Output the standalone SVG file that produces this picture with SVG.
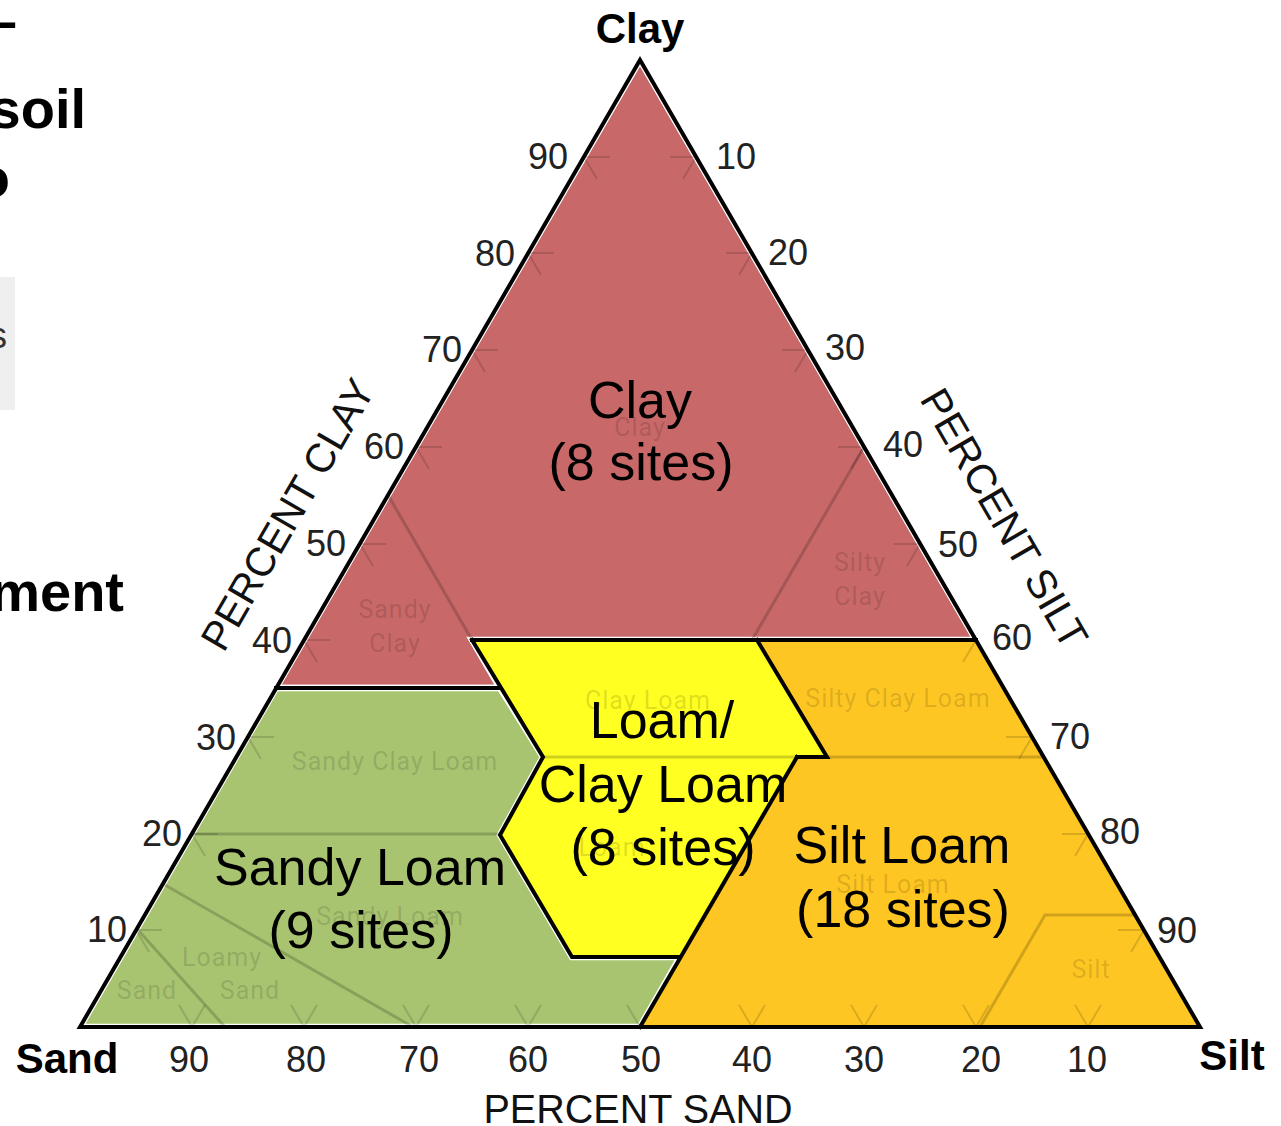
<svg xmlns="http://www.w3.org/2000/svg" width="1281" height="1126" viewBox="0 0 1281 1126">
<style>
.num{font-family:"Liberation Sans",Arial,sans-serif;font-size:36px;fill:#222;text-anchor:middle}
.big{font-family:"Liberation Sans",Arial,sans-serif;font-size:52px;fill:#000;text-anchor:middle}
.corner{font-family:"Liberation Sans",Arial,sans-serif;font-size:42px;font-weight:bold;fill:#000;text-anchor:middle}
.axis{font-family:"Liberation Sans",Arial,sans-serif;font-size:41px;fill:#111;text-anchor:middle}
.faint{font-family:Roboto,"DejaVu Sans",sans-serif;font-size:25px;fill:#000;fill-opacity:0.14;text-anchor:middle;letter-spacing:1px}
.inner{fill:none;stroke:#000;stroke-opacity:0.18;stroke-width:3}
.tick{fill:none;stroke:#000;stroke-opacity:0.14;stroke-width:2}
.bd{fill:none;stroke:#000;stroke-width:4;stroke-linejoin:miter;stroke-linecap:square}
.slide{font-family:"Liberation Sans",Arial,sans-serif;font-weight:bold;font-size:56px;fill:#000;text-anchor:end}
.hl{stroke:#fff;stroke-width:6.5;stroke-linejoin:miter}
</style>

<g id="slide-fragments">
  <text class="slide" x="17" y="40">–</text>
  <text class="slide" x="86" y="128">soil</text>
  <text class="slide" x="10" y="197">o</text>
  <rect x="0" y="277" width="15" height="133" fill="#efefef"/>
  <text x="7" y="348" font-family="Liberation Sans, Arial, sans-serif" font-size="36" fill="#333" text-anchor="end">s</text>
  <text class="slide" x="124" y="611" font-size="58">ment</text>
</g>

<g id="regions">
  <polygon id="clay-region" class="hl" fill="#c86868" points="640,60 276,688 500,688 472,640 976,640"/>
  <polygon id="sandy-loam-region" class="hl" fill="#a8c470" points="80,1027 276,688 500,688 543,757 500,835 572,957 680,957 640,1027"/>
  <polygon id="loam-region" fill="#ffff22" points="472,640 757,640 827,757 797,757 680,957 572,957 500,835 543,757"/>
  <polygon id="silt-loam-region" fill="#fec623" points="757,640 976,640 1200,1027 640,1027 797,757 827,757"/>
</g>

<g id="class-lines">
  <path class="inner" d="M388,495 L472,640"/>
  <path class="inner" d="M752,640 L864,447"/>
  <path class="inner" d="M827,757 L1043,757"/>
  <path class="inner" d="M543,757 L797,757"/>
  <path class="inner" d="M1137,915 L1045,915 L980,1027"/>
  <path class="inner" d="M192,834 L500,834"/>
  <path class="inner" d="M165,885 L413,1027"/>
  <path class="inner" d="M138,930 L225,1027"/>
</g>

<g id="ticks">
  <path class="tick" d="M162,930 L136,930 L149,952 M218,834 L192,834 L205,856 M274,737 L248,737 L261,759 M330,640 L304,640 L317,662 M386,544 L360,544 L373,566 M442,447 L416,447 L429,469 M498,350 L472,350 L485,372 M554,253 L528,253 L541,275 M610,157 L584,157 L597,179"/>
  <path class="tick" d="M670,157 L696,157 L683,179 M726,253 L752,253 L739,275 M782,350 L808,350 L795,372 M838,447 L864,447 L851,469 M894,544 L920,544 L907,566 M950,640 L976,640 L963,662 M1006,737 L1032,737 L1019,759 M1062,834 L1088,834 L1075,856 M1118,930 L1144,930 L1131,952"/>
  <path class="tick" d="M179,1005 L192,1027 L205,1005 M291,1005 L304,1027 L317,1005 M403,1005 L416,1027 L429,1005 M515,1005 L528,1027 L541,1005 M627,1005 L640,1027 L653,1005 M739,1005 L752,1027 L765,1005 M851,1005 L864,1027 L877,1005 M963,1005 L976,1027 L989,1005 M1075,1005 L1088,1027 L1101,1005"/>
</g>

<g id="class-labels">
  <text class="faint" x="640" y="436">Clay</text>
  <text class="faint" x="395" y="618">Sandy</text>
  <text class="faint" x="395" y="652">Clay</text>
  <text class="faint" x="860" y="571">Silty</text>
  <text class="faint" x="860" y="605">Clay</text>
  <text class="faint" x="648" y="709">Clay Loam</text>
  <text class="faint" x="898" y="707">Silty Clay Loam</text>
  <text class="faint" x="395" y="770">Sandy Clay Loam</text>
  <text class="faint" x="612" y="856">Loam</text>
  <text class="faint" x="893" y="893">Silt Loam</text>
  <text class="faint" x="390" y="925">Sandy Loam</text>
  <text class="faint" x="222" y="966">Loamy</text>
  <text class="faint" x="250" y="999">Sand</text>
  <text class="faint" x="147" y="999">Sand</text>
  <text class="faint" x="1091" y="978">Silt</text>
</g>

<g id="boundaries">
  <polygon class="bd" points="640,60 80,1027 1200,1027"/>
  <path class="bd" d="M472,640 L976,640"/>
  <path class="bd" d="M276,688 L500,688"/>
  <path class="bd" d="M472,640 L543,757 L500,835 L572,957 L680,957"/>
  <path class="bd" d="M757,640 L827,757 L797,757"/>
  <path class="bd" d="M640,1027 L797,757"/>
</g>

<g id="site-labels">
  <text class="big" x="640" y="418">Clay</text>
  <text class="big" x="641" y="480">(8 sites)</text>
  <text class="big" x="662" y="738">Loam/</text>
  <text class="big" x="663" y="802">Clay Loam</text>
  <text class="big" x="663" y="865">(8 sites)</text>
  <text class="big" x="360" y="885">Sandy Loam</text>
  <text class="big" x="361" y="948">(9 sites)</text>
  <text class="big" x="902" y="863">Silt Loam</text>
  <text class="big" x="903" y="927">(18 sites)</text>
</g>

<g id="axis-numbers">
  <text class="num" x="548" y="169">90</text>
  <text class="num" x="495" y="266">80</text>
  <text class="num" x="442" y="362">70</text>
  <text class="num" x="384" y="459">60</text>
  <text class="num" x="326" y="556">50</text>
  <text class="num" x="272" y="653">40</text>
  <text class="num" x="216" y="750">30</text>
  <text class="num" x="162" y="846">20</text>
  <text class="num" x="107" y="942">10</text>

  <text class="num" x="736" y="169">10</text>
  <text class="num" x="788" y="265">20</text>
  <text class="num" x="845" y="360">30</text>
  <text class="num" x="903" y="457">40</text>
  <text class="num" x="958" y="557">50</text>
  <text class="num" x="1012" y="650">60</text>
  <text class="num" x="1070" y="749">70</text>
  <text class="num" x="1120" y="844">80</text>
  <text class="num" x="1177" y="943">90</text>

  <text class="num" x="189" y="1072">90</text>
  <text class="num" x="306" y="1072">80</text>
  <text class="num" x="419" y="1072">70</text>
  <text class="num" x="528" y="1072">60</text>
  <text class="num" x="641" y="1072">50</text>
  <text class="num" x="752" y="1072">40</text>
  <text class="num" x="864" y="1072">30</text>
  <text class="num" x="981" y="1072">20</text>
  <text class="num" x="1087" y="1072">10</text>
</g>

<g id="axis-titles">
  <text class="corner" x="640" y="43">Clay</text>
  <text class="corner" x="67" y="1073">Sand</text>
  <text class="corner" x="1232" y="1070">Silt</text>
  <text class="axis" x="638" y="1123" textLength="309" lengthAdjust="spacingAndGlyphs">PERCENT SAND</text>
  <text class="axis" transform="translate(287,514) rotate(-60)" x="0" y="15" textLength="305" lengthAdjust="spacingAndGlyphs">PERCENT CLAY</text>
  <text class="axis" transform="translate(1005,518) rotate(60)" x="0" y="15" textLength="292" lengthAdjust="spacingAndGlyphs">PERCENT SILT</text>
</g>
</svg>
